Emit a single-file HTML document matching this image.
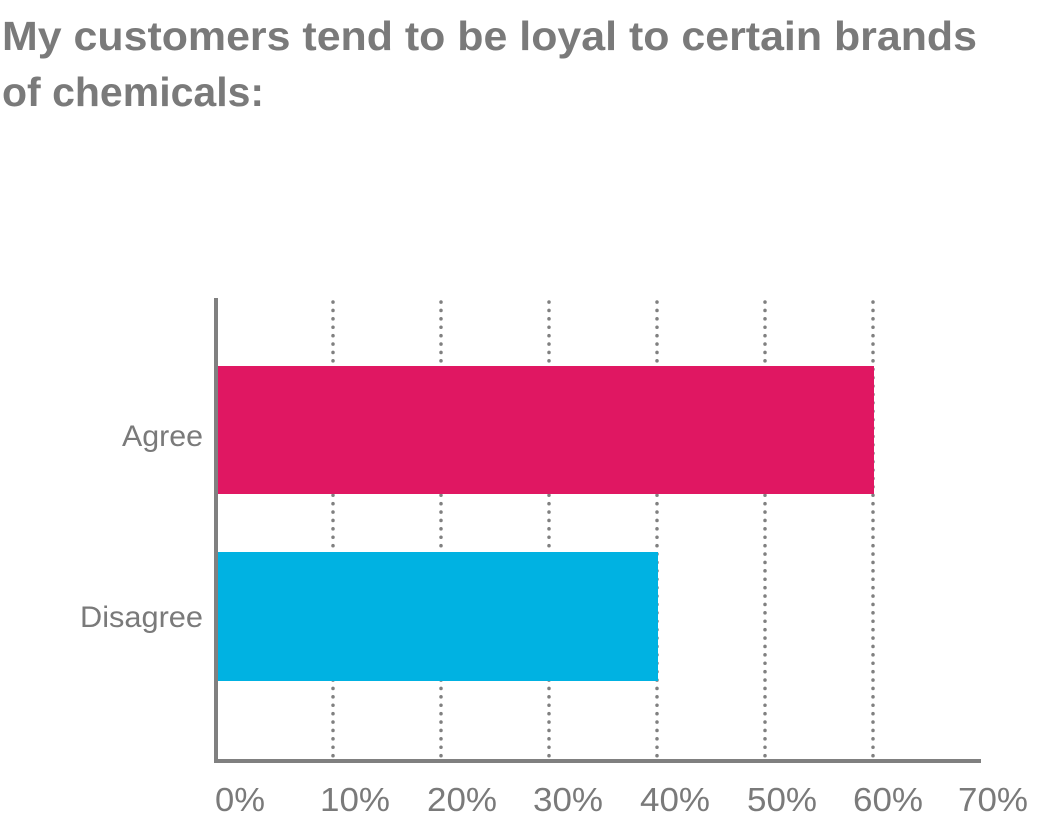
<!DOCTYPE html>
<html><head><style>
body{margin:0;width:1063px;height:822px;background:#fff;overflow:hidden}
svg{display:block}
</style></head><body>
<svg width="1063" height="822" xmlns="http://www.w3.org/2000/svg" font-family="Liberation Sans, sans-serif">
<text x="2" y="50" font-size="41" font-weight="bold" fill="#7a7a7a" textLength="975" lengthAdjust="spacingAndGlyphs">My customers tend to be loyal to certain brands</text>
<text x="2" y="106" font-size="41" font-weight="bold" fill="#7a7a7a">of chemicals:</text>
<g stroke="#808080" stroke-width="3.5" stroke-dasharray="0.1 8.3" stroke-linecap="round">
<line x1="333" y1="302" x2="333" y2="756"/>
<line x1="441" y1="302" x2="441" y2="756"/>
<line x1="549" y1="302" x2="549" y2="756"/>
<line x1="657" y1="302" x2="657" y2="756"/>
<line x1="765" y1="302" x2="765" y2="756"/>
<line x1="873" y1="302" x2="873" y2="756"/>
</g>
<rect x="218" y="366" width="656" height="128" fill="#e01762"/>
<rect x="218" y="552" width="440" height="129" fill="#00b2e2"/>
<rect x="214" y="298" width="4" height="465" fill="#808080"/>
<rect x="214" y="759" width="767" height="4" fill="#808080"/>
<g font-size="30" fill="#7a7a7a">
<text x="122" y="446" textLength="81" lengthAdjust="spacingAndGlyphs">Agree</text>
<text x="80" y="627" textLength="123" lengthAdjust="spacingAndGlyphs">Disagree</text>
</g>
<g font-size="33" fill="#7a7a7a">
<text x="215" y="811" textLength="50" lengthAdjust="spacingAndGlyphs">0%</text>
<text x="320" y="811" textLength="70" lengthAdjust="spacingAndGlyphs">10%</text>
<text x="427" y="811" textLength="70" lengthAdjust="spacingAndGlyphs">20%</text>
<text x="533" y="811" textLength="70" lengthAdjust="spacingAndGlyphs">30%</text>
<text x="640" y="811" textLength="70" lengthAdjust="spacingAndGlyphs">40%</text>
<text x="747" y="811" textLength="70" lengthAdjust="spacingAndGlyphs">50%</text>
<text x="853" y="811" textLength="70" lengthAdjust="spacingAndGlyphs">60%</text>
<text x="958" y="811" textLength="70" lengthAdjust="spacingAndGlyphs">70%</text>
</g>
</svg>
</body></html>
